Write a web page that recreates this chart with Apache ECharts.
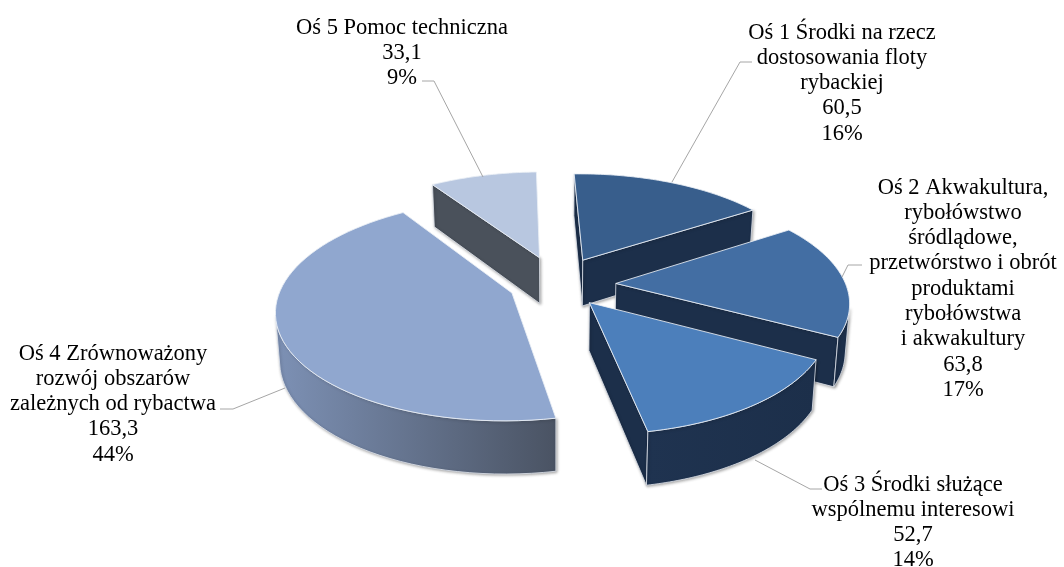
<!DOCTYPE html>
<html><head><meta charset="utf-8">
<style>html,body{margin:0;padding:0;background:#fff}#c{width:1064px;height:567px}</style>
<script src="https://cdn.jsdelivr.net/npm/echarts@6/dist/echarts.min.js"></script>
</head><body><div id="c"></div>
<script>
// ---- data ----
const categories = [
  'Oś 1 Środki na rzecz\ndostosowania floty\nrybackiej',
  'Oś 2 Akwakultura,\nrybołówstwo\nśródlądowe,\nprzetwórstwo i obrót\nproduktami\nrybołówstwa\ni akwakultury',
  'Oś 3 Środki służące\nwspólnemu interesowi',
  'Oś 4 Zrównoważony\nrozwój obszarów\nzależnych od rybactwa',
  'Oś 5 Pomoc techniczna'
];
const values = [60.5, 63.8, 52.7, 163.3, 33.1];
const percents = [16, 17, 14, 44, 9];

// ---- styles ----
const topColors = ['#385e8c', '#436ea3', '#4c7fbb', '#90a7cf', '#b8c7e0'];
const wallFrom = ['#1c2f4a', '#1c2f4a', '#1f3350', '#7d91b5', '#4a515b'];
const wallTo = ['#1c2f4a', '#1c2f4a', '#1c2f4a', '#4a5363', '#4a515b'];
const cutColors = ['#1c2f4a', '#1c2f4a', '#1c2f4a', '#4a5363', '#4a515b'];
const explodeX = [0.125, 0.265, 0.146, -0.185, -0.07];
const explodeY = [-0.24, -0.012, 0.165, 0.077, -0.265];
const drawOrder = [4, 0, 3, 1, 2];
const labelX = [842, 963, 913, 113, 402];
const labelY = [20, 175, 472, 341, 15];
const leaders = [
  [[672, 182], [740, 62], [752, 62]],
  [[842, 277], [848, 265], [862, 265]],
  [[755, 460], [810, 489], [822, 489]],
  [[285, 388], [233, 409], [220, 409]],
  [[483, 177], [434, 81], [422, 81]]
];
const view = {cx: 555, cy: 284.7, A: 230, B: 106, p: 0.15, D: 47, conv: 0.015, rot: -1.5};

// ---- projection ----
function project(X, Y, z) {
  const w = 1 / (1 - view.p * Y);
  return [
    view.cx + view.A * X * w * (1 - view.conv * z),
    view.cy + view.B * Y * w + view.D * z * Math.pow(w, 0.7)
  ];
}
function area(poly) {
  let s = 0;
  for (let i = 0; i < poly.length; i++) {
    const a = poly[i], b = poly[(i + 1) % poly.length];
    s += a[0] * b[1] - b[0] * a[1];
  }
  return s / 2;
}
const total = values.reduce((a, b) => a + b, 0);
const startAngles = [];
values.reduce((acc, v, i) => { startAngles[i] = acc; return acc + v; }, 0);

function buildSlice(i, value) {
  const a0 = startAngles[i] / total * 2 * Math.PI + view.rot * Math.PI / 180;
  const a1 = a0 + value / total * 2 * Math.PI;
  const ex = explodeX[i], ey = explodeY[i];
  const pt = (a, z) => project(ex + Math.sin(a), ey - Math.cos(a), z);
  const apex = z => project(ex, ey, z);
  const n = 60, topPts = [apex(0)], children = [];
  const edge = '#dfe5ee';
  const shadow = {shadowBlur: 3, shadowColor: 'rgba(0,0,0,0.35)', shadowOffsetX: 1, shadowOffsetY: 1};
  const orient = area([apex(0), pt(a0, 0), pt((a0 + a1) / 2, 0)]) > 0 ? 1 : -1;
  // radial cut faces
  const faces = [
    [apex(0), pt(a0, 0), pt(a0, 1), apex(1)],
    [pt(a1, 0), apex(0), apex(1), pt(a1, 1)]
  ];
  faces.forEach(f => {
    if (area(f) * orient < 0) {
      children.push({type: 'polygon', shape: {points: f},
        style: Object.assign({fill: cutColors[i], stroke: edge, lineWidth: 0.8}, shadow)});
    }
  });
  // outer wall: only the part that faces the viewer
  const upper = [], lower = [];
  for (let k = 0; k <= n; k++) {
    const a = a0 + (a1 - a0) * k / n;
    topPts.push(pt(a, 0));
    if (k < n) {
      const b = a0 + (a1 - a0) * (k + 1) / n;
      const q = [pt(a, 0), pt(b, 0), pt(b, 1), pt(a, 1)];
      if (area(q) * orient < 0) {
        if (!upper.length) { upper.push(q[0]); lower.push(q[3]); }
        upper.push(q[1]); lower.push(q[2]);
      }
    }
  }
  if (upper.length) {
    children.push({type: 'polygon', shape: {points: upper.concat(lower.reverse())},
      style: Object.assign({
        fill: new echarts.graphic.LinearGradient(0, 0, 1, 0, [
          {offset: 0, color: wallFrom[i]}, {offset: 1, color: wallTo[i]}
        ]), stroke: edge, lineWidth: 0.8}, shadow)});
  }
  children.push({type: 'polygon', shape: {points: topPts},
    style: {fill: topColors[i], stroke: 'rgba(235,240,246,0.85)', lineWidth: 1}});
  return {type: 'group', children};
}

const chart = echarts.init(document.getElementById('c'), null, {renderer: 'canvas'});
const fontStyle = {fontFamily: '"Liberation Serif"', fontSize: 22.5, lineHeight: 25.3, fill: '#000'};
chart.setOption({
  animation: false,
  backgroundColor: '#fff',
  series: [{
    type: 'custom',
    coordinateSystem: 'none',
    data: drawOrder.map(i => ({name: categories[i], value: [i, values[i]]})),
    renderItem: (params, api) => buildSlice(api.value(0), api.value(1))
  }],
  graphic: leaders.map(pts => ({
    type: 'polyline', shape: {points: pts}, z: 10, silent: true,
    style: {stroke: '#a6a6a6', lineWidth: 1, fill: null}
  })).concat(categories.map((c, i) => ({
    type: 'text', x: labelX[i], y: labelY[i], z: 11, silent: true,
    style: Object.assign({
      text: c + '\n' + String(values[i]).replace('.', ',') + '\n' + percents[i] + '%',
      align: 'center', verticalAlign: 'top'
    }, fontStyle)
  })))
});
</script></body></html>
